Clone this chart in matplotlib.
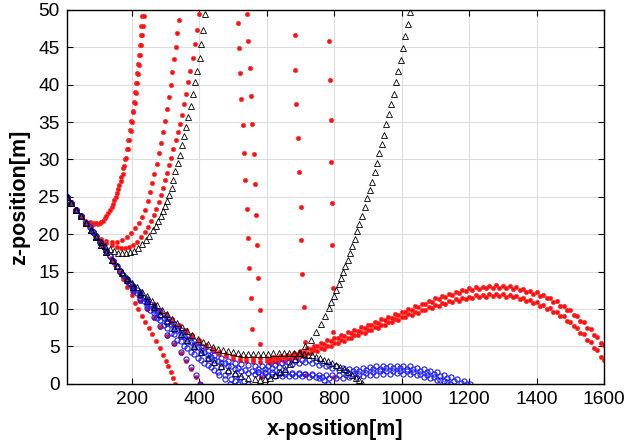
import matplotlib
matplotlib.use('Agg')
import matplotlib.pyplot as plt

# shared launch segment, all trajectories leave from (7 m, 25 m)
head_x = [7, 20, 35, 50]
head_z = [25.0, 24.2, 23.3, 22.4]

# red trajectories (filled dots)
r1a_x = [62, 75, 88, 100, 110, 120, 130, 140, 148, 155, 162, 168, 174, 180, 185, 190, 195, 199, 203, 206,
         209, 212, 215, 218, 220, 223, 226, 228, 231, 233]
r1a_z = [21.8, 21.5, 21.4, 21.4, 21.6, 22.1, 22.8, 23.7, 24.6, 25.5, 26.6, 27.6, 28.8, 30.1, 31.4, 32.6, 34.0,
         35.2, 36.5, 37.7, 39.0, 40.2, 41.5, 42.8, 44.0, 45.3, 46.6, 47.9, 49.2, 50.5]
r1b_x = [62, 75, 85, 95, 105, 115, 125, 135, 145, 153, 160, 167, 173, 178, 183, 188, 193, 197, 201, 205,
         209, 213, 216, 219, 222, 225, 228, 231, 234, 237, 240]
r1b_z = [21.8, 21.6, 21.5, 21.5, 21.5, 21.8, 22.4, 23.2, 24.1, 25.0, 26.0, 27.1, 28.1, 29.1, 30.2, 31.4, 32.6,
         33.8, 35.0, 36.3, 37.6, 38.9, 40.2, 41.4, 42.7, 44.0, 45.3, 46.6, 47.9, 49.2, 50.5]
r2_x = [65, 80, 95, 110, 125, 140, 155, 170, 185, 198, 210, 221, 231, 240, 248, 255, 261, 267, 274, 280,
        286, 292, 298, 304, 310, 315, 320, 325, 330, 335, 339, 343]
r2_z = [21.5, 20.6, 19.9, 19.4, 19.1, 19.0, 19.0, 19.2, 19.6, 20.1, 20.8, 21.5, 22.3, 23.3, 24.4, 25.6, 26.8,
        28.0, 29.4, 30.8, 32.2, 33.7, 35.2, 36.8, 38.4, 40.0, 41.7, 43.4, 45.1, 46.9, 48.7, 50.5]
r3_x = [65, 80, 95, 110, 125, 140, 155, 168, 180, 192, 204, 216, 228, 239, 249, 258, 266, 273, 280, 286,
        292, 298, 304, 310, 316, 323, 330, 336, 342, 348, 355, 361, 367, 373, 381, 386, 392, 398, 403]
r3_z = [21.5, 20.6, 19.8, 19.2, 18.8, 18.5, 18.3, 18.2, 18.2, 18.3, 18.6, 19.0, 19.6, 20.3, 21.0, 21.8, 22.6,
        23.4, 24.3, 25.2, 26.2, 27.2, 28.2, 29.2, 30.2, 31.4, 32.6, 33.7, 34.8, 36.0, 37.4, 38.8, 40.3, 41.9,
        43.6, 45.4, 47.3, 49.4, 51.0]
long_x = [65, 85, 105, 125, 145, 165, 185, 205, 225, 245, 265, 285, 300, 320, 340, 360, 380, 400, 420, 440,
          460, 480, 500, 520, 540, 560, 580, 600, 620, 640, 660, 680, 700, 720, 740, 760, 780, 800, 820, 840,
          860, 880, 900, 920, 940, 960, 980, 1000, 1020, 1040, 1060, 1080, 1100, 1120, 1140, 1160, 1180, 1200,
          1220, 1240, 1260, 1280, 1300, 1320, 1340, 1360, 1380, 1400, 1420, 1440, 1460, 1480, 1500, 1520, 1540,
          1560, 1580, 1600]
r4_z = [21.5, 20.3, 19.0, 17.7, 16.4, 15.2, 14.0, 13.0, 12.1, 11.3, 10.6, 9.9, 9.3, 8.6, 7.9, 7.2, 6.5, 5.8,
        5.2, 4.7, 4.3, 4.0, 3.75, 3.6, 3.5, 3.45, 3.45, 3.5, 3.6, 3.75, 3.9, 4.1, 4.4, 4.75, 5.1, 5.45, 5.8,
        6.15, 6.5, 6.85, 7.2, 7.55, 7.9, 8.25, 8.6, 8.95, 9.3, 9.65, 10.0, 10.35, 10.7, 11.05, 11.4, 11.7,
        12.0, 12.3, 12.55, 12.75, 12.9, 13.0, 13.1, 13.15, 13.1, 13.05, 12.9, 12.7, 12.45, 12.2, 11.85, 11.45,
        11.0, 10.45, 9.8, 9.05, 8.2, 7.3, 6.3, 5.2]
r5_z = [21.5, 20.3, 19.0, 17.7, 16.4, 15.0, 13.8, 12.7, 11.8, 11.0, 10.3, 9.6, 9.0, 8.3, 7.6, 6.9, 6.2, 5.5,
        4.9, 4.4, 4.0, 3.65, 3.35, 3.15, 3.0, 2.95, 2.95, 3.0, 3.1, 3.25, 3.4, 3.6, 3.85, 4.15, 4.45, 4.8, 5.1,
        5.45, 5.8, 6.15, 6.5, 6.85, 7.2, 7.55, 7.9, 8.25, 8.6, 8.95, 9.3, 9.6, 9.9, 10.2, 10.5, 10.8, 11.05,
        11.3, 11.5, 11.65, 11.8, 11.9, 11.95, 12.0, 11.95, 11.85, 11.7, 11.5, 11.25, 10.9, 10.5, 10.1, 9.6,
        9.0, 8.3, 7.5, 6.6, 5.6, 4.5, 3.2]
# lower rows of the two long red bands
band_x = [610, 630, 650, 670, 690, 710, 730, 750, 770, 790, 810, 830, 850, 870, 890, 910, 930, 950, 970, 990,
          1010, 1030, 1050, 1070, 1090, 1110, 1130, 1150, 1170, 1190, 1210, 1230, 1250, 1270, 1290, 1310, 1330,
          1350, 1370, 1390, 1410, 1430, 1450, 1470, 1490, 1510, 1530, 1550, 1570, 1590]
r4b_z = [3.3, 3.4, 3.55, 3.75, 4.0, 4.3, 4.65, 5.0, 5.35, 5.7, 6.05, 6.4, 6.75, 7.1, 7.45, 7.8, 8.15, 8.5, 8.85,
         9.2, 9.55, 9.9, 10.25, 10.6, 10.95, 11.3, 11.6, 11.9, 12.15, 12.4, 12.55, 12.7, 12.8, 12.85, 12.85,
         12.8, 12.7, 12.55, 12.3, 12.05, 11.75, 11.4, 10.95, 10.45, 9.85, 9.15, 8.35, 7.45, 6.5, 5.45]
r5b_z = [2.8, 2.9, 3.05, 3.25, 3.45, 3.75, 4.05, 4.4, 4.7, 5.05, 5.4, 5.75, 6.1, 6.45, 6.8, 7.15, 7.5, 7.85, 8.2,
         8.55, 8.9, 9.2, 9.5, 9.8, 10.1, 10.4, 10.65, 10.9, 11.1, 11.3, 11.45, 11.55, 11.65, 11.7, 11.7, 11.65,
         11.55, 11.35, 11.1, 10.8, 10.45, 10.05, 9.6, 9.05, 8.4, 7.65, 6.8, 5.85, 4.8, 3.6]
r6_x = [65, 75, 85, 95, 105, 115, 125, 137, 150, 162, 175, 187, 200, 210, 218, 229, 240, 250, 260, 272,
        283, 292, 300, 308, 315, 321, 327]
r6_z = [21.5, 20.9, 20.3, 19.6, 19.0, 18.4, 17.7, 16.8, 15.9, 15.0, 14.0, 13.0, 11.8, 10.8, 10.0, 9.1, 8.2,
        7.4, 6.6, 5.7, 4.8, 3.9, 3.1, 2.3, 1.5, 0.8, 0.0]
r7_x = [65, 85, 105, 125, 145, 165, 185, 205, 225, 245, 265, 285, 305, 325, 345, 360, 375, 390, 402]
r7_z = [21.5, 20.3, 19.0, 17.7, 16.4, 15.0, 13.6, 12.3, 11.1, 10.0, 8.8, 7.6, 6.4, 5.3, 4.1, 3.1, 2.0, 0.9, 0.0]

# sparse red columns
col_a_x = [515, 518, 521, 525, 529, 533, 537, 541, 544, 547, 552, 555, 558]
col_a_z = [48.2, 44.9, 41.5, 38.1, 34.6, 30.9, 27.2, 23.4, 19.5, 15.5, 11.4, 7.3, 3.2]
col_b_x = [542, 545, 550, 553, 556, 561, 564, 567, 571, 575, 579, 580, 583]
col_b_z = [49.5, 45.8, 42.2, 38.5, 34.7, 30.7, 26.7, 22.6, 18.5, 14.1, 9.9, 5.3, 0.9]
col_c_x = [684, 685, 688, 693, 697, 701, 703, 706, 711, 713, 716]
col_c_z = [46.6, 42.0, 37.4, 32.9, 28.3, 23.7, 19.2, 14.7, 10.2, 5.6, 1.1]
col_d_x = [784, 787, 790, 791, 793, 794, 796, 797, 799]
col_d_z = [45.9, 40.6, 35.3, 29.7, 24.2, 18.5, 12.8, 6.9, 0.9]

# blue trajectories (open circles)
b1_x = [65, 85, 105, 125, 145, 165, 185, 205, 225, 245, 265, 285, 305, 325, 345, 360, 375, 390, 402]
b1_z = [21.5, 20.3, 19.0, 17.7, 16.4, 15.1, 13.7, 12.4, 11.2, 10.1, 8.9, 7.7, 6.5, 5.4, 4.3, 3.3, 2.2, 1.1, 0.0]
b2_x = [65, 85, 105, 125, 145, 165, 185, 205, 225, 245, 265, 285, 305, 325, 345, 365, 385, 405, 425, 445,
        460, 475, 490]
b2_z = [21.5, 20.3, 19.0, 17.7, 16.4, 15.1, 13.8, 12.6, 11.5, 10.5, 9.5, 8.5, 7.5, 6.6, 5.7, 4.8, 4.0, 3.2,
        2.5, 1.8, 1.2, 0.6, 0.0]
b3_x = [65, 85, 105, 125, 145, 165, 185, 205, 225, 245, 265, 285, 305, 325, 345, 365, 385, 405, 425, 445,
        465, 485, 505, 520, 533, 545]
b3_z = [21.5, 20.3, 19.0, 17.7, 16.4, 15.1, 13.9, 12.8, 11.8, 10.8, 9.9, 9.0, 8.1, 7.2, 6.4, 5.6, 4.8, 4.1,
        3.4, 2.8, 2.2, 1.6, 1.1, 0.7, 0.35, 0.0]
b4_x = [65, 85, 105, 125, 145, 165, 185, 205, 225, 245, 265, 285, 305, 325, 345, 365, 385, 405, 425, 445,
        465, 485, 505, 525, 545, 565, 585, 605, 625, 645, 665, 685, 705, 725, 745, 765, 785, 805, 825, 845,
        865, 885, 905, 925, 945, 965, 985, 1005, 1025, 1045, 1065, 1085, 1105, 1125, 1143]
b4_z = [21.5, 20.3, 19.0, 17.7, 16.4, 15.1, 14.0, 13.0, 12.0, 11.0, 10.1, 9.2, 8.4, 7.6, 6.8, 6.0, 5.2, 4.5,
        3.8, 3.2, 2.7, 2.3, 1.95, 1.65, 1.4, 1.25, 1.1, 1.05, 1.0, 1.0, 1.0, 1.0, 1.0, 0.95, 0.9, 0.85, 0.8,
        0.8, 0.8, 0.85, 0.9, 1.0, 1.1, 1.2, 1.3, 1.35, 1.4, 1.35, 1.25, 1.1, 0.9, 0.7, 0.5, 0.3, 0.0]
b5_x = [65, 85, 105, 125, 145, 165, 185, 205, 225, 245, 265, 285, 305, 325, 345, 365, 385, 405, 425, 445,
        465, 485, 505, 525, 545, 565, 585, 605, 625, 645, 665, 685, 705, 725, 745, 765, 785, 805, 825, 845,
        865, 885, 905, 925, 945, 965, 985, 1005, 1025, 1045, 1065, 1085, 1105, 1125, 1145, 1165, 1185, 1203]
b5_z = [21.5, 20.3, 19.0, 17.7, 16.4, 15.1, 14.0, 13.1, 12.2, 11.3, 10.4, 9.6, 8.8, 8.0, 7.2, 6.4, 5.7, 5.0,
        4.4, 3.9, 3.5, 3.1, 2.8, 2.6, 2.45, 2.35, 2.3, 2.35, 2.5, 2.7, 2.9, 3.1, 3.2, 3.15, 3.0, 2.8, 2.55,
        2.3, 2.1, 2.0, 2.0, 2.1, 2.2, 2.3, 2.35, 2.4, 2.4, 2.4, 2.3, 2.15, 1.95, 1.75, 1.5, 1.2, 0.9, 0.6,
        0.3, 0.0]
b6_x = [75, 95, 115, 135, 155, 175, 195, 215, 235, 255, 275, 295, 315, 335, 355, 375, 395, 415, 435, 455,
        475, 495, 505, 515]
b6_z = [20.9, 19.7, 18.4, 17.1, 15.8, 14.5, 13.3, 12.1, 11.0, 9.9, 8.8, 7.8, 6.8, 5.9, 5.0, 4.2, 3.5, 2.8,
        2.2, 1.6, 1.1, 0.6, 0.35, 0.0]
b7_x = [75, 95, 115, 135, 155, 175, 195, 215, 235, 255, 275, 295, 315, 335, 355, 375, 395, 415, 435, 455,
        475, 495, 515, 535, 555, 575, 595, 615, 635, 655, 675, 695, 715, 735, 755, 770, 782]
b7_z = [20.9, 19.7, 18.4, 17.1, 15.8, 14.5, 13.5, 12.5, 11.5, 10.6, 9.7, 8.8, 8.0, 7.2, 6.4, 5.6, 4.9, 4.2,
        3.6, 3.1, 2.7, 2.35, 2.05, 1.8, 1.65, 1.55, 1.5, 1.5, 1.5, 1.5, 1.45, 1.4, 1.3, 1.1, 0.8, 0.45, 0.0]
# second rows of the two blue arches
b4b_x = [575, 595, 615, 635, 655, 675, 695, 715, 735, 755, 775, 795, 815, 835, 855, 875, 895, 915, 935, 955,
         975, 995, 1015, 1035, 1055, 1075, 1095, 1115, 1135]
b4b_z = [1.5, 1.4, 1.35, 1.35, 1.35, 1.35, 1.35, 1.3, 1.25, 1.2, 1.15, 1.15, 1.15, 1.2, 1.25, 1.35, 1.45, 1.55,
         1.65, 1.72, 1.75, 1.75, 1.7, 1.55, 1.35, 1.1, 0.85, 0.55, 0.2]
b5b_x = [575, 595, 615, 635, 655, 675, 695, 715, 735, 755, 775, 795, 815, 835, 855, 875, 895, 915, 935, 955,
         975, 995, 1015, 1035, 1055, 1075, 1095, 1115, 1135, 1155, 1175, 1195]
b5b_z = [2.0, 2.0, 2.05, 2.2, 2.4, 2.6, 2.8, 2.85, 2.75, 2.55, 2.35, 2.1, 1.85, 1.7, 1.65, 1.7, 1.8, 1.9, 1.98,
         2.03, 2.05, 2.05, 2.0, 1.9, 1.7, 1.5, 1.28, 1.0, 0.7, 0.4, 0.15, 0.0]

# black trajectories (open triangles)
t1_x = [65, 80, 95, 110, 122, 134, 146, 158, 170, 182, 194, 206, 218, 230, 241, 252, 262, 271, 279, 286,
        292, 298, 304, 310, 318, 323, 329, 337, 343, 350, 356, 362, 368, 375, 381, 387, 393, 401, 406, 412, 418]
t1_z = [21.5, 20.6, 19.7, 18.9, 18.4, 18.0, 17.7, 17.5, 17.45, 17.45, 17.6, 17.8, 18.2, 18.7, 19.2, 19.8,
        20.5, 21.1, 21.8, 22.5, 23.1, 23.8, 24.5, 25.3, 26.2, 27.3, 28.4, 29.5, 30.6, 31.9, 33.1, 34.3, 35.7,
        37.1, 38.7, 40.3, 41.9, 43.6, 45.4, 47.3, 49.4]
t2_x = [65, 80, 95, 110, 125, 140, 155, 170, 185, 205, 225, 245, 265, 285, 305, 325, 345, 365, 385, 405,
        425, 445, 465, 485, 505, 525, 545, 565, 580, 595, 610, 625, 640, 655, 670, 685, 700, 715, 730, 745,
        760, 772, 784, 792, 799, 806, 813, 819, 826, 833, 840, 847, 854, 861, 868, 875, 883, 891, 898, 905,
        913, 920, 927, 933, 941, 948, 954, 962, 969, 976, 984, 990, 998, 1005, 1011, 1018, 1024]
t2_z = [21.5, 20.6, 19.6, 18.6, 17.6, 16.6, 15.7, 14.8, 13.9, 12.9, 12.0, 11.1, 10.2, 9.3, 8.4, 7.5, 6.6, 5.8,
        5.0, 4.2, 3.5, 2.9, 2.3, 1.8, 1.4, 1.05, 0.8, 0.6, 0.55, 0.6, 0.8, 1.1, 1.5, 2.0, 2.6, 3.3, 4.1, 5.0,
        5.9, 6.9, 8.0, 9.0, 10.1, 10.9, 11.7, 12.5, 13.3, 14.1, 14.9, 15.8, 16.6, 17.5, 18.4, 19.4, 20.4,
        21.4, 22.5, 23.6, 24.8, 25.9, 27.0, 28.3, 29.5, 30.8, 32.1, 33.3, 34.7, 36.1, 37.4, 38.8, 40.3, 41.8,
        43.3, 44.9, 46.5, 48.1, 49.7]
t3_x = [65, 80, 95, 110, 125, 140, 155, 170, 185, 200, 215, 230, 245, 260, 275, 290, 305, 320, 335, 350,
        365, 380, 395, 410, 425, 440, 455, 470, 485, 500, 515, 530, 545, 560, 575, 590, 605, 620, 635, 650,
        665, 680, 695, 710, 722, 734, 746, 758, 770, 782, 794, 806, 818, 830, 842, 853, 864, 874, 883]
t3_z = [21.5, 20.6, 19.6, 18.6, 17.6, 16.6, 15.7, 14.9, 14.1, 13.5, 12.9, 12.3, 11.7, 11.1, 10.5, 9.9, 9.3,
        8.7, 8.1, 7.6, 7.0, 6.5, 6.0, 5.6, 5.25, 4.95, 4.7, 4.5, 4.35, 4.2, 4.1, 4.0, 3.95, 3.95, 3.95, 4.0,
        4.0, 4.05, 4.1, 4.1, 4.1, 4.1, 4.05, 4.0, 3.9, 3.8, 3.6, 3.4, 3.2, 3.0, 2.75, 2.5, 2.2, 1.9, 1.5, 1.15,
        0.8, 0.45, 0.1]

red_runs = [(r1a_x, r1a_z), (r1b_x, r1b_z), (r2_x, r2_z), (r3_x, r3_z), (long_x, r4_z), (long_x, r5_z),
            (r6_x, r6_z), (r7_x, r7_z)]
red_rows = [(band_x, r4b_z), (band_x, r5b_z), (col_a_x, col_a_z), (col_b_x, col_b_z),
            (col_c_x, col_c_z), (col_d_x, col_d_z)]
blue_runs = [(b1_x, b1_z), (b2_x, b2_z), (b3_x, b3_z), (b4_x, b4_z), (b5_x, b5_z), (b6_x, b6_z), (b7_x, b7_z)]
blue_rows = [(b4b_x, b4b_z), (b5b_x, b5b_z)]
black_runs = [(t1_x, t1_z), (t2_x, t2_z), (t3_x, t3_z)]

plt.rcParams['font.family'] = ['Liberation Sans', 'DejaVu Sans']

fig = plt.figure(figsize=(6.25, 4.41), dpi=100)
ax = fig.add_axes([0.1067, 0.130, 0.8597, 0.8474])

red_style = dict(linestyle='none', marker='o', ms=3.2, mfc='#ff1010', mec='#ff3030', mew=0.4)
blue_style = dict(linestyle='none', marker='o', ms=3.7, mfc='none', mec='#1a1aff', mew=0.8)
black_style = dict(linestyle='none', marker='^', ms=3.8, mfc='none', mec='black', mew=0.6)

for xs, zs in red_runs:
    ax.plot(head_x + xs, head_z + zs, **red_style)
for xs, zs in red_rows:
    ax.plot(xs, zs, **red_style)
for xs, zs in blue_runs:
    ax.plot(head_x + xs, head_z + zs, **blue_style)
for xs, zs in blue_rows:
    ax.plot(xs, zs, **blue_style)
for xs, zs in black_runs:
    ax.plot(head_x + xs, head_z + zs, **black_style)

ax.set_xlim(7, 1600)
ax.set_ylim(0, 50)
ax.set_xticks([200, 400, 600, 800, 1000, 1200, 1400, 1600])
ax.set_yticks(range(0, 51, 5))
ax.grid(True, color='#dcdcdc', lw=0.8)
ax.set_axisbelow(True)
ax.tick_params(direction='in', top=True, right=True, length=4, width=0.8, labelsize=13.8, pad=5)
for s in ax.spines.values():
    s.set_linewidth(1.0)

ax.set_xlabel('x-position[m]', fontsize=15.5, fontweight='bold', labelpad=8)
ax.set_ylabel('z-position[m]', fontsize=15.5, fontweight='bold', labelpad=6)

fig.savefig('out.png', dpi=100)
